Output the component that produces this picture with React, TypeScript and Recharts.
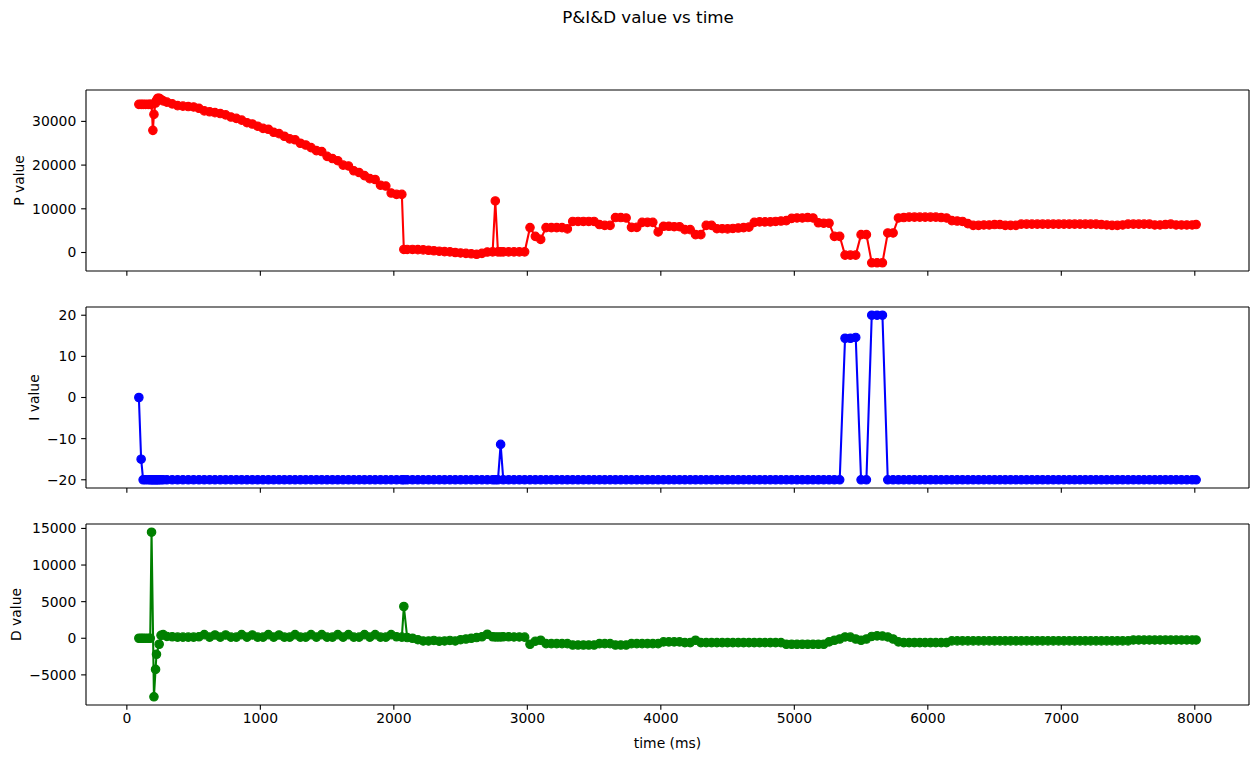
import React from 'react';
import { LineChart, Line, XAxis, YAxis } from 'recharts';

// time (ms)
const T = [
  90, 107, 122, 140, 160, 175, 185, 195, 203, 215, 222, 232, 242, 256, 272,
  300, 340, 380, 420, 460, 500, 540, 580, 620, 660,
  700, 740, 780, 820, 860, 900, 940, 980, 1020, 1060,
  1100, 1140, 1180, 1220, 1260, 1300, 1340, 1380, 1420, 1460,
  1500, 1540, 1580, 1620, 1660, 1700, 1740, 1780, 1820, 1860,
  1900, 1940, 1980, 2020, 2060, 2075,
  2100, 2140, 2180, 2220, 2260, 2300, 2340, 2380, 2420, 2460,
  2500, 2540, 2580, 2620, 2660, 2700, 2740, 2760,
  2780, 2800, 2820, 2860, 2900, 2940, 2980,
  3020, 3060, 3100, 3140, 3180, 3220, 3260, 3300, 3340, 3380,
  3420, 3460, 3500, 3540, 3580, 3620, 3660, 3700, 3740, 3780,
  3820, 3860, 3900, 3940, 3980, 4020, 4060, 4100, 4140, 4180,
  4220, 4260, 4300, 4340, 4380, 4420, 4460, 4500, 4540, 4580,
  4620, 4660, 4700, 4740, 4780, 4820, 4860, 4900, 4940, 4980,
  5020, 5060, 5100, 5140, 5180, 5220, 5260, 5300, 5340, 5380,
  5420, 5460, 5500, 5540, 5580, 5620, 5660, 5700, 5740, 5780,
  5820, 5860, 5900, 5940, 5980, 6020, 6060, 6100, 6140, 6180,
  6220, 6260, 6300, 6340, 6380, 6420, 6460, 6500, 6540, 6580,
  6620, 6660, 6700, 6740, 6780, 6820, 6860, 6900, 6940, 6980,
  7020, 7060, 7100, 7140, 7180, 7220, 7260, 7300, 7340, 7380,
  7420, 7460, 7500, 7540, 7580, 7620, 7660, 7700, 7740, 7780,
  7820, 7860, 7900, 7940, 7980, 8010,
];

const P_VALUES = [
  33900, 33900, 33900, 33900, 33900, 33900, 33900, 27950, 31600, 34200, 34800, 35300, 35300, 35000, 34700,
  34400, 34000, 33600, 33500, 33400, 33300, 33000, 32400, 32200, 32000,
  31800, 31500, 31000, 30700, 30300, 29700, 29400, 28900, 28400, 28200,
  27500, 27200, 26600, 26000, 25800, 25000, 24600, 24000, 23300, 23100,
  22000, 21500, 21000, 20000, 19800, 18700, 18300, 17600, 16900, 16700,
  15400, 15200, 13600, 13300, 13300, 700,
  700, 700, 650, 600, 500, 400, 300, 200, 150, 0,
  -100, -200, -300, -400, -200, 100, 150, 11800,
  150, 150, 150, 150, 150, 150, 150,
  5700, 3700, 3000, 5700, 5700, 5700, 5700, 5400, 7100, 7100,
  7100, 7100, 7100, 6400, 6200, 6200, 8000, 8000, 7900, 5750,
  5750, 6900, 6900, 6900, 4700, 6000, 6000, 5900, 5900, 5230,
  5230, 4090, 4090, 6200, 6200, 5450, 5450, 5400, 5500, 5600,
  5700, 5800, 6900, 7000, 7000, 7000, 7100, 7200, 7300, 7800,
  7900, 7900, 8000, 7900, 6800, 6700, 6700, 3700, 3700, -600,
  -600, -600, 4090, 4090, -2350, -2350, -2350, 4470, 4470, 7900,
  8000, 8100, 8100, 8100, 8100, 8100, 8100, 8000, 7900, 7300,
  7200, 7100, 6600, 6200, 6200, 6300, 6300, 6400, 6400, 6200,
  6200, 6200, 6500, 6500, 6500, 6500, 6500, 6500, 6500, 6500,
  6500, 6500, 6500, 6500, 6500, 6500, 6500, 6400, 6300, 6200,
  6200, 6300, 6500, 6500, 6500, 6500, 6500, 6300, 6300, 6400,
  6500, 6300, 6300, 6300, 6300, 6400,
];

const I_VALUES = [
  0, -15, -20, -20, -20, -20, -20, -20, -20, -20, -20, -20, -20, -20, -20,
  -20, -20, -20, -20, -20, -20, -20, -20, -20, -20,
  -20, -20, -20, -20, -20, -20, -20, -20, -20, -20,
  -20, -20, -20, -20, -20, -20, -20, -20, -20, -20,
  -20, -20, -20, -20, -20, -20, -20, -20, -20, -20,
  -20, -20, -20, -20, -20, -20,
  -20, -20, -20, -20, -20, -20, -20, -20, -20, -20,
  -20, -20, -20, -20, -20, -20, -20, -20,
  -20, -11.4, -20, -20, -20, -20, -20,
  -20, -20, -20, -20, -20, -20, -20, -20, -20, -20,
  -20, -20, -20, -20, -20, -20, -20, -20, -20, -20,
  -20, -20, -20, -20, -20, -20, -20, -20, -20, -20,
  -20, -20, -20, -20, -20, -20, -20, -20, -20, -20,
  -20, -20, -20, -20, -20, -20, -20, -20, -20, -20,
  -20, -20, -20, -20, -20, -20, -20, -20, -20, 14.4,
  14.4, 14.6, -20, -20, 20, 20, 20, -20, -20, -20,
  -20, -20, -20, -20, -20, -20, -20, -20, -20, -20,
  -20, -20, -20, -20, -20, -20, -20, -20, -20, -20,
  -20, -20, -20, -20, -20, -20, -20, -20, -20, -20,
  -20, -20, -20, -20, -20, -20, -20, -20, -20, -20,
  -20, -20, -20, -20, -20, -20, -20, -20, -20, -20,
  -20, -20, -20, -20, -20, -20,
];

const D_VALUES = [
  0, 0, 0, 0, 0, 0, 14480, null, -7990, -4250, -2190, null, -820, 400, 500,
  250, 200, 150, 150, 150, 150, 200, 500, 150, 450,
  150, 450, 150, 150, 500, 150, 450, 150, 150, 500,
  150, 450, 150, 150, 500, 150, 150, 500, 150, 500,
  150, 150, 500, 150, 500, 150, 150, 500, 150, 500,
  150, 150, 500, 200, 150, 4340,
  100, 0, -200, -370, -370, -300, -400, -370, -300, -370,
  -200, -100, 0, 100, 200, 550, 200, 180,
  180, 180, 200, 200, 180, 180, 150,
  -820, -400, -270, -730, -730, -730, -730, -730, -920, -920,
  -920, -920, -920, -730, -730, -730, -920, -920, -920, -730,
  -730, -730, -730, -730, -730, -500, -500, -500, -500, -590,
  -590, -270, -590, -590, -590, -590, -590, -590, -590, -590,
  -590, -590, -590, -590, -590, -590, -590, -590, -820, -820,
  -820, -820, -820, -820, -820, -820, -500, -270, -100, 180,
  150, -100, -270, -100, 250, 320, 300, 180, -100, -500,
  -590, -590, -590, -590, -590, -590, -590, -590, -590, -360,
  -360, -360, -360, -360, -360, -360, -360, -360, -360, -360,
  -360, -360, -360, -360, -360, -360, -360, -360, -360, -360,
  -360, -360, -360, -360, -360, -360, -360, -360, -360, -360,
  -360, -360, -360, -230, -230, -230, -230, -230, -230, -230,
  -230, -230, -230, -230, -230, -230,
];

const X_TICKS = [0, 1000, 2000, 3000, 4000, 5000, 6000, 7000, 8000];
const P_TICKS = [0, 10000, 20000, 30000];
const I_TICKS = [-20, -10, 0, 10, 20];
const D_TICKS = [-5000, 0, 5000, 10000, 15000];

const rows = T.map((t, k) => ({ t, p: P_VALUES[k], i: I_VALUES[k], d: D_VALUES[k] }));

const FONT = "'DejaVu Sans', sans-serif";
const FS = 13.9;
const W = 1258;
const PLOT_H = 181;
const TOP_PAD = 10;
const X_DOMAIN: [number, number] = [-306, 8406];
const fmt = (v: number) => String(v).replace('-', '\u2212');

type PanelProps = {
  top: number;
  height: number;
  bottomAxisH: number;
  marginBottom: number;
  dataKey: string;
  color: string;
  yDomain: [number, number];
  yTicks: number[];
  yLabel: string;
  yLabelX: number;
  xLabels: boolean;
};

function Panel(props: PanelProps) {
  const { top, height, bottomAxisH, marginBottom, dataKey, color, yDomain, yTicks, yLabel, yLabelX, xLabels } = props;
  const cy = TOP_PAD + PLOT_H / 2;
  const axisStroke = { stroke: '#000', strokeWidth: 1.1 };
  return (
    <div style={{ position: 'absolute', left: 0, top, width: W, height }}>
      <LineChart
        width={W}
        height={height}
        data={rows}
        margin={{ top: TOP_PAD - 1, right: 8, bottom: marginBottom, left: 0 }}
      >
        <XAxis
          xAxisId="b"
          dataKey="t"
          type="number"
          domain={X_DOMAIN}
          ticks={X_TICKS}
          interval={0}
          allowDataOverflow
          height={bottomAxisH}
          tickSize={4.86}
          tickMargin={3}
          axisLine={axisStroke}
          tickLine={axisStroke}
          tick={{ fill: '#000', fontSize: FS, fontFamily: FONT }}
          tickFormatter={xLabels ? (v: number) => fmt(v) : () => ''}
          label={
            xLabels
              ? {
                  value: 'time (ms)',
                  content: () => (
                    <text
                      x={667.5}
                      y={229}
                      textAnchor="middle"
                      dominantBaseline="central"
                      fontSize={FS}
                      fontFamily={FONT}
                      fill="#000"
                    >
                      time (ms)
                    </text>
                  ),
                }
              : undefined
          }
        />
        <XAxis
          xAxisId="top"
          orientation="top"
          dataKey="t"
          type="number"
          domain={X_DOMAIN}
          allowDataOverflow
          height={1}
          tick={false}
          tickLine={false}
          axisLine={axisStroke}
        />
        <YAxis
          yAxisId="l"
          type="number"
          domain={yDomain}
          ticks={yTicks}
          interval={0}
          allowDataOverflow
          width={86}
          tickSize={4.86}
          tickMargin={4.86}
          axisLine={axisStroke}
          tickLine={axisStroke}
          tick={{ fill: '#000', fontSize: FS, fontFamily: FONT }}
          tickFormatter={(v: number) => fmt(v)}
          label={{
            value: yLabel,
            content: () => (
              <text
                x={yLabelX}
                y={cy}
                transform={`rotate(-90 ${yLabelX} ${cy})`}
                textAnchor="middle"
                dominantBaseline="central"
                fontSize={FS}
                fontFamily={FONT}
                fill="#000"
              >
                {yLabel}
              </text>
            ),
          }}
        />
        <YAxis
          yAxisId="r"
          orientation="right"
          type="number"
          domain={yDomain}
          allowDataOverflow
          width={1}
          tick={false}
          tickLine={false}
          axisLine={axisStroke}
        />
        <Line
          xAxisId="b"
          yAxisId="l"
          type="linear"
          dataKey={dataKey}
          stroke={color}
          strokeWidth={2.08}
          dot={{ r: 4.2, fill: color, stroke: color, strokeWidth: 1.2 }}
          activeDot={false}
          connectNulls
          isAnimationActive={false}
        />
      </LineChart>
    </div>
  );
}

export default function App() {
  return (
    <div
      style={{
        position: 'absolute',
        left: 0,
        top: 0,
        width: W,
        height: 759,
        background: '#fff',
        fontFamily: FONT,
      }}
    >
      <svg style={{ position: 'absolute', left: 0, top: 0 }} width={W} height={40}>
        <text
          x={648}
          y={17}
          textAnchor="middle"
          dominantBaseline="central"
          fontSize={16.7}
          fontFamily={FONT}
          fill="#000"
        >
          {'P&I&D value vs time'}
        </text>
      </svg>
      <Panel
        top={80}
        height={200}
        bottomAxisH={9}
        marginBottom={0}
        dataKey="p"
        color="#ff0000"
        yDomain={[-4233, 37183]}
        yTicks={P_TICKS}
        yLabel="P value"
        yLabelX={18.5}
        xLabels={false}
      />
      <Panel
        top={297}
        height={200}
        bottomAxisH={9}
        marginBottom={0}
        dataKey="i"
        color="#0000ff"
        yDomain={[-22, 22]}
        yTicks={I_TICKS}
        yLabel="I value"
        yLabelX={33.5}
        xLabels={false}
      />
      <Panel
        top={514}
        height={245}
        bottomAxisH={40}
        marginBottom={14}
        dataKey="d"
        color="#008000"
        yDomain={[-9114, 15604]}
        yTicks={D_TICKS}
        yLabel="D value"
        yLabelX={16}
        xLabels={true}
      />
    </div>
  );
}
